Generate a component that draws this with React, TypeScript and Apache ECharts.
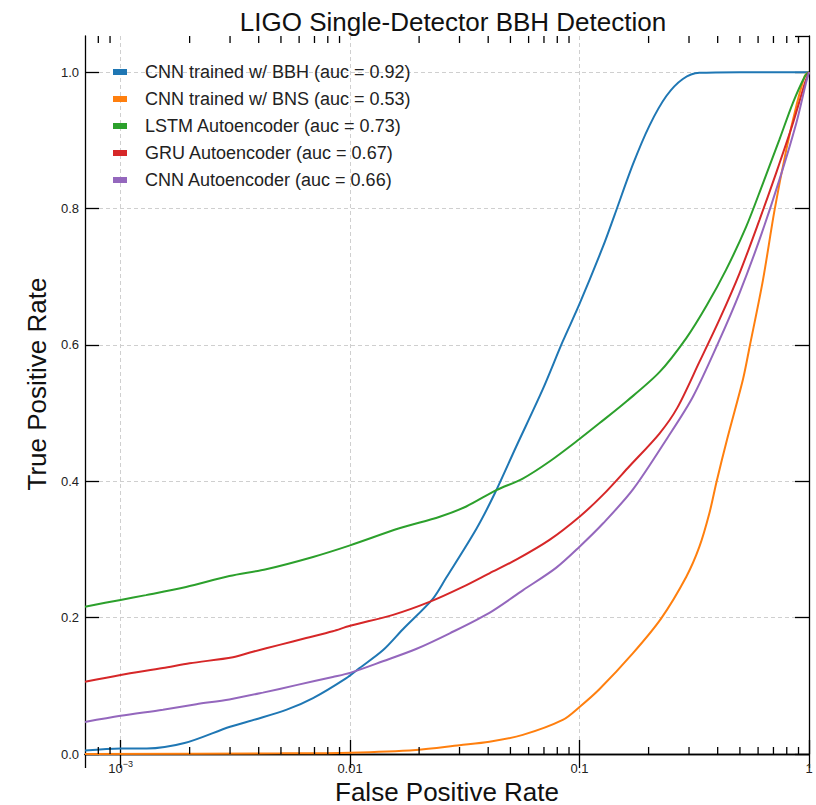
import React, { useEffect, useRef } from "react";
import * as echarts from "echarts";

const TITLE = "LIGO Single-Detector BBH Detection";
const X_NAME = "False Positive Rate";
const Y_NAME = "True Positive Rate";
const X_MIN = 7e-4;
const X_MAX = 1;
const Y_MAX = 1.053;
const Y_TICKS_STEP = 0.2;

const seriesNames = [
  "CNN trained w/ BBH (auc = 0.92)",
  "CNN trained w/ BNS (auc = 0.53)",
  "LSTM Autoencoder (auc = 0.73)",
  "GRU Autoencoder (auc = 0.67)",
  "CNN Autoencoder (auc = 0.66)",
];
const seriesColors = ["#1f77b4", "#ff7f0e", "#2ca02c", "#d62728", "#9467bd"];

const bbhFpr = [7e-4, 1e-3, 1.3e-3, 1.9e-3, 3.0e-3, 3.9e-3, 5.3e-3, 6.9e-3, 9.6e-3, 0.011, 0.0139, 0.017, 0.023, 0.0262, 0.0355, 0.0427, 0.053, 0.0692, 0.0845, 0.1, 0.1265, 0.142, 0.171, 0.202, 0.239, 0.282, 0.333, 0.5, 1];
const bbhTpr = [0.005, 0.008, 0.008, 0.016, 0.04, 0.051, 0.065, 0.082, 0.111, 0.126, 0.152, 0.183, 0.228, 0.258, 0.33, 0.382, 0.451, 0.535, 0.605, 0.66, 0.744, 0.79, 0.865, 0.922, 0.965, 0.99, 0.999, 1, 1];

const bnsFpr = [7e-4, 5e-3, 0.01, 0.0194, 0.03, 0.0405, 0.0566, 0.0845, 0.1, 0.122, 0.171, 0.227, 0.292, 0.333, 0.368, 0.396, 0.44, 0.516, 0.551, 0.63, 0.708, 0.796, 0.88, 0.96, 1];
const bnsTpr = [0.0, 0.001, 0.002, 0.006, 0.013, 0.018, 0.028, 0.05, 0.069, 0.095, 0.148, 0.199, 0.26, 0.304, 0.353, 0.4, 0.462, 0.55, 0.597, 0.695, 0.798, 0.886, 0.95, 0.995, 1];

const lstmFpr = [7e-4, 1e-3, 1.29e-3, 1.93e-3, 2.98e-3, 4.31e-3, 6.9e-3, 0.01, 0.0164, 0.0246, 0.0321, 0.0434, 0.0566, 0.074, 0.1, 0.122, 0.16, 0.223, 0.292, 0.357, 0.435, 0.532, 0.63, 0.743, 0.851, 0.96, 1];
const lstmTpr = [0.216, 0.226, 0.233, 0.245, 0.261, 0.271, 0.289, 0.306, 0.331, 0.348, 0.363, 0.387, 0.404, 0.429, 0.462, 0.485, 0.517, 0.56, 0.61, 0.657, 0.71, 0.773, 0.837, 0.901, 0.955, 0.994, 1];

const gruFpr = [7e-4, 1e-3, 1.53e-3, 2.0e-3, 3.09e-3, 3.77e-3, 4.93e-3, 6.44e-3, 8.41e-3, 0.01, 0.0154, 0.0222, 0.031, 0.0405, 0.053, 0.074, 0.1, 0.1265, 0.165, 0.223, 0.267, 0.333, 0.407, 0.498, 0.608, 0.719, 0.851, 0.96, 1];
const gruTpr = [0.106, 0.116, 0.126, 0.133, 0.142, 0.15, 0.16, 0.17, 0.18, 0.188, 0.204, 0.223, 0.245, 0.265, 0.285, 0.314, 0.348, 0.38, 0.422, 0.47, 0.508, 0.575, 0.637, 0.705, 0.783, 0.852, 0.925, 0.984, 1];

const cnnAeFpr = [7e-4, 1e-3, 1.53e-3, 2.14e-3, 2.98e-3, 4.17e-3, 5.83e-3, 8.41e-3, 0.01, 0.0139, 0.0194, 0.0272, 0.0405, 0.0566, 0.079, 0.1, 0.1265, 0.171, 0.243, 0.312, 0.407, 0.498, 0.608, 0.743, 0.88, 0.97, 1];
const cnnAeTpr = [0.047, 0.056, 0.065, 0.073, 0.08, 0.09, 0.101, 0.113, 0.119, 0.136, 0.154, 0.177, 0.207, 0.24, 0.273, 0.304, 0.338, 0.388, 0.465, 0.524, 0.607, 0.676, 0.754, 0.842, 0.925, 0.984, 1];

const minorTickValues = [8e-4, 9e-4, 2e-3, 3e-3, 4e-3, 5e-3, 6e-3, 7e-3, 8e-3, 9e-3, 0.02, 0.03, 0.04, 0.05, 0.06, 0.07, 0.08, 0.09, 0.2, 0.3, 0.4, 0.5, 0.6, 0.7, 0.8, 0.9];

const allFpr = [bbhFpr, bnsFpr, lstmFpr, gruFpr, cnnAeFpr];
const allTpr = [bbhTpr, bnsTpr, lstmTpr, gruTpr, cnnAeTpr];

const FONT = "'Liberation Sans', Arial, Helvetica, sans-serif";
const W = 816;
const H = 805;

export default function App() {
  const ref = useRef<HTMLDivElement>(null);
  useEffect(() => {
    if (!ref.current) return;
    document.body.style.margin = "0";
    const chart = echarts.init(ref.current, undefined, { renderer: "svg", width: W, height: H });
    const tickStyle = { color: "#000", width: 1.3 };
    const splitStyle = { color: "#cfcfcf", width: 1, type: [4, 3] as any };
    const lineSeries = seriesNames.map((name, i) => ({
      name,
      type: "line",
      data: allFpr[i].map((x, j) => [x, allTpr[i][j]]),
      showSymbol: false,
      symbol: "none",
      smooth: 0.3,
      color: seriesColors[i],
      lineStyle: { width: 2, color: seriesColors[i] },
      z: 3,
    }));
    const option: any = {
      animation: false,
      textStyle: { fontFamily: FONT },
      title: {
        text: TITLE,
        left: 448,
        textAlign: "center",
        top: 4,
        textStyle: { fontSize: 26, fontWeight: "normal", color: "#111", fontFamily: FONT },
      },
      legend: {
        data: seriesNames,
        orient: "vertical",
        left: 113,
        top: 62,
        icon: "rect",
        itemWidth: 14,
        itemHeight: 6,
        itemGap: 7,
        padding: 0,
        textStyle: { fontSize: 18, lineHeight: 20, color: "#222", padding: [0, 0, 0, 13], fontFamily: FONT },
      },
      grid: { left: 85, right: 7, top: 36, bottom: 51, containLabel: false, outerBoundsMode: "none" },
      xAxis: [
        {
          type: "log",
          logBase: 10,
          min: X_MIN,
          max: X_MAX,
          position: "bottom",
          name: X_NAME,
          nameLocation: "middle",
          nameGap: 26,
          nameMoveOverlap: false,
          nameTextStyle: { fontSize: 26, lineHeight: 24, color: "#111", fontFamily: FONT },
          axisLine: { show: true, lineStyle: tickStyle },
          axisTick: { show: true, inside: true, length: 14, lineStyle: tickStyle },
          axisLabel: {
            showMinLabel: false,
            margin: 8,
            fontSize: 13,
            lineHeight: 13,
            color: "#222",
            formatter: (v: number) => {
              const e = Math.round(Math.log10(v));
              if (e === -3) return "10{sup|\u22123}";
              if (e === -2) return "0.01";
              if (e === -1) return "0.1";
              if (e === 0) return "1";
              return "";
            },
            rich: {
              sup: { fontSize: 9, lineHeight: 13, verticalAlign: "bottom", padding: [0, 0, 7, 0], color: "#222" },
            },
          },
          splitLine: { show: true, showMinLine: false, showMaxLine: false, lineStyle: splitStyle },
        },
        {
          type: "log",
          logBase: 10,
          min: X_MIN,
          max: X_MAX,
          position: "top",
          axisLine: { show: true, lineStyle: tickStyle },
          axisTick: { show: true, inside: true, length: 14, lineStyle: tickStyle },
          axisLabel: { show: false },
          splitLine: { show: false },
        },
      ],
      yAxis: [
        {
          type: "value",
          min: 0,
          max: Y_MAX,
          interval: Y_TICKS_STEP,
          position: "left",
          name: Y_NAME,
          nameLocation: "middle",
          nameGap: 35,
          nameMoveOverlap: false,
          nameTextStyle: { fontSize: 26, color: "#111", padding: [0, 0, 0, 22], fontFamily: FONT },
          axisLine: { show: true, lineStyle: tickStyle },
          axisTick: { show: true, inside: true, length: 14, lineStyle: tickStyle },
          axisLabel: {
            showMaxLabel: false,
            margin: 6,
            fontSize: 13,
            color: "#222",
            formatter: (v: number) => (v > 1.01 ? "" : v.toFixed(1)),
          },
          splitLine: { show: true, showMinLine: false, showMaxLine: false, lineStyle: splitStyle },
        },
        {
          type: "value",
          min: 0,
          max: Y_MAX,
          interval: Y_TICKS_STEP,
          position: "right",
          axisLine: { show: true, lineStyle: tickStyle },
          axisTick: { show: true, inside: true, length: 14, lineStyle: tickStyle },
          axisLabel: { show: false },
          splitLine: { show: false },
        },
      ],
      series: [
        ...lineSeries,
        {
          name: "minorTicks",
          type: "custom",
          xAxisIndex: 0,
          yAxisIndex: 0,
          silent: true,
          clip: false,
          z: 5,
          data: minorTickValues.map((v) => [v, 0]),
          encode: { x: 0, y: 1 },
          renderItem: (params: any, api: any) => {
            const p = api.coord([api.value(0), 0]);
            const cs = params.coordSys;
            const yb = cs.y + cs.height;
            const yt = cs.y;
            return {
              type: "group",
              children: [
                { type: "line", shape: { x1: p[0], y1: yb, x2: p[0], y2: yb - 7 }, style: { stroke: "#000", lineWidth: 1.3 } },
                { type: "line", shape: { x1: p[0], y1: yt, x2: p[0], y2: yt + 7 }, style: { stroke: "#000", lineWidth: 1.3 } },
              ],
            };
          },
        },
      ],
    };
    chart.setOption(option);
    return () => chart.dispose();
  }, []);
  return <div ref={ref} style={{ width: W, height: H, background: "#fff" }} />;
}
